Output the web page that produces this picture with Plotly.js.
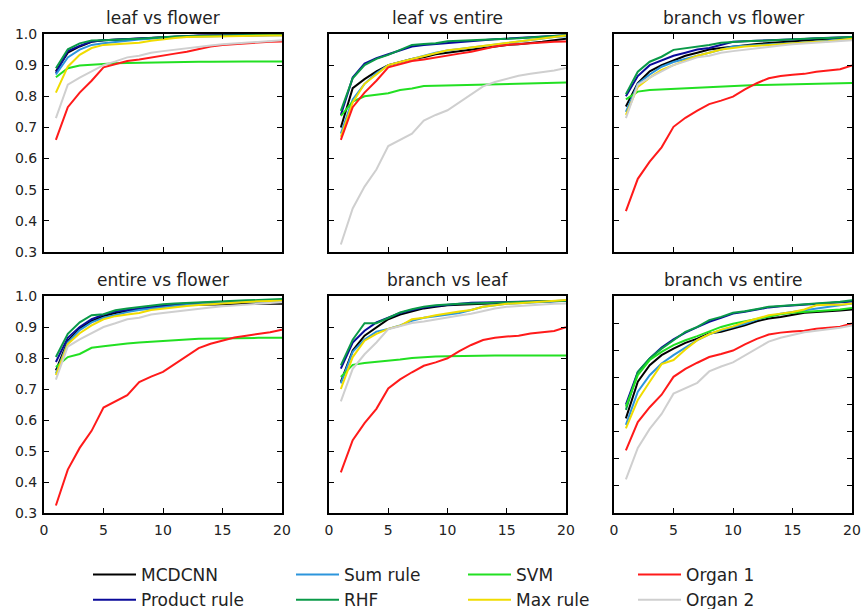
<!DOCTYPE html>
<html>
<head>
<meta charset="utf-8">
<script src="https://cdn.plot.ly/plotly-3.0.1.min.js"></script>
<style>html,body{margin:0;padding:0;background:#fff;}#chart{width:861px;height:609px;}</style>
</head>
<body>
<div id="chart"></div>
<script>
// ---------- data ----------
const rank = [1,2,3,4,5,6,7,8,9,10,11,12,13,14,15,16,17,18,19,20];
const panelTitles = ["leaf vs flower","leaf vs entire","branch vs flower","entire vs flower","branch vs leaf","branch vs entire"];
const methodNames = ["MCDCNN","Product rule","Sum rule","RHF","SVM","Max rule","Organ 1","Organ 2"];

// single-organ curves (shared as Organ 1 / Organ 2)
const leafOnly   = [0.660,0.765,0.812,0.850,0.893,0.903,0.913,0.918,0.925,0.932,0.937,0.943,0.952,0.960,0.965,0.968,0.970,0.972,0.975,0.976];
const flowerOnly = [0.730,0.837,0.860,0.880,0.900,0.912,0.925,0.930,0.940,0.945,0.950,0.955,0.960,0.963,0.967,0.970,0.972,0.975,0.977,0.980];
const entireOnly = [0.324,0.440,0.510,0.565,0.640,0.661,0.680,0.722,0.740,0.755,0.780,0.806,0.832,0.846,0.857,0.866,0.872,0.877,0.883,0.891];
const branchOnly = [0.431,0.535,0.590,0.636,0.702,0.731,0.754,0.775,0.786,0.799,0.822,0.842,0.858,0.865,0.869,0.872,0.879,0.882,0.887,0.899];

// leaf vs flower
const lf_mcdcnn  = [0.880,0.940,0.960,0.975,0.980,0.982,0.984,0.986,0.988,0.990,0.992,0.993,0.994,0.995,0.995,0.996,0.996,0.997,0.997,0.997];
const lf_product = [0.875,0.945,0.962,0.976,0.980,0.982,0.985,0.987,0.989,0.991,0.993,0.994,0.995,0.995,0.996,0.996,0.997,0.997,0.997,0.998];
const lf_sum     = [0.870,0.925,0.950,0.965,0.970,0.975,0.978,0.982,0.985,0.988,0.990,0.991,0.992,0.993,0.994,0.995,0.995,0.996,0.996,0.996];
const lf_rhf     = [0.890,0.951,0.970,0.979,0.980,0.981,0.983,0.985,0.987,0.990,0.992,0.993,0.994,0.995,0.995,0.996,0.996,0.997,0.997,0.997];
const lf_svm     = [0.861,0.890,0.899,0.902,0.905,0.906,0.907,0.908,0.909,0.910,0.910,0.911,0.911,0.911,0.912,0.912,0.912,0.912,0.912,0.912];
const lf_max     = [0.812,0.895,0.933,0.955,0.965,0.967,0.970,0.972,0.978,0.983,0.987,0.990,0.991,0.992,0.993,0.994,0.994,0.995,0.995,0.995];

// leaf vs entire
const le_mcdcnn  = [0.700,0.826,0.855,0.880,0.900,0.910,0.920,0.925,0.935,0.940,0.945,0.950,0.955,0.960,0.965,0.967,0.970,0.975,0.980,0.985];
const le_product = [0.740,0.860,0.905,0.922,0.935,0.947,0.960,0.965,0.968,0.973,0.976,0.979,0.981,0.983,0.985,0.987,0.989,0.991,0.993,0.996];
const le_sum     = [0.680,0.790,0.840,0.875,0.900,0.910,0.922,0.930,0.940,0.947,0.952,0.957,0.962,0.967,0.970,0.975,0.980,0.985,0.990,0.993];
const le_rhf     = [0.753,0.858,0.900,0.920,0.933,0.949,0.965,0.968,0.970,0.977,0.979,0.981,0.983,0.984,0.985,0.986,0.988,0.990,0.993,0.996];
const le_svm     = [0.737,0.783,0.800,0.805,0.810,0.820,0.825,0.833,0.834,0.835,0.836,0.837,0.838,0.839,0.840,0.841,0.842,0.843,0.844,0.844];
const le_max     = [0.670,0.780,0.840,0.870,0.900,0.910,0.920,0.930,0.940,0.948,0.952,0.957,0.962,0.967,0.970,0.975,0.980,0.985,0.990,0.995];

// branch vs flower
const bf_mcdcnn  = [0.767,0.842,0.880,0.900,0.915,0.930,0.940,0.950,0.955,0.960,0.965,0.968,0.971,0.974,0.977,0.979,0.982,0.984,0.986,0.988];
const bf_product = [0.800,0.865,0.900,0.915,0.930,0.940,0.950,0.955,0.965,0.975,0.977,0.978,0.980,0.981,0.983,0.984,0.986,0.987,0.988,0.990];
const bf_sum     = [0.750,0.840,0.870,0.895,0.910,0.920,0.930,0.940,0.950,0.960,0.962,0.965,0.967,0.969,0.970,0.973,0.976,0.979,0.982,0.985];
const bf_rhf     = [0.807,0.879,0.911,0.927,0.949,0.954,0.960,0.965,0.972,0.975,0.977,0.978,0.980,0.982,0.983,0.985,0.986,0.987,0.989,0.990];
const bf_svm     = [0.790,0.815,0.820,0.822,0.825,0.827,0.829,0.830,0.832,0.834,0.835,0.836,0.837,0.838,0.839,0.840,0.841,0.842,0.842,0.843];
const bf_max     = [0.740,0.830,0.860,0.885,0.900,0.915,0.930,0.940,0.950,0.955,0.960,0.962,0.965,0.967,0.970,0.972,0.975,0.977,0.980,0.985];

// entire vs flower
const ef_mcdcnn  = [0.760,0.855,0.895,0.920,0.935,0.945,0.952,0.958,0.963,0.967,0.970,0.971,0.972,0.973,0.974,0.974,0.975,0.975,0.975,0.975];
const ef_product = [0.787,0.865,0.900,0.925,0.940,0.950,0.955,0.960,0.965,0.970,0.973,0.976,0.978,0.980,0.981,0.982,0.983,0.984,0.985,0.985];
const ef_sum     = [0.750,0.850,0.890,0.915,0.930,0.940,0.948,0.955,0.960,0.965,0.968,0.971,0.974,0.976,0.978,0.980,0.981,0.983,0.984,0.985];
const ef_rhf     = [0.803,0.878,0.915,0.938,0.941,0.954,0.960,0.965,0.970,0.973,0.976,0.978,0.980,0.982,0.984,0.985,0.986,0.987,0.988,0.990];
const ef_svm     = [0.771,0.803,0.813,0.833,0.838,0.843,0.847,0.850,0.853,0.856,0.858,0.860,0.862,0.863,0.864,0.864,0.865,0.865,0.865,0.865];
const ef_max     = [0.745,0.845,0.880,0.905,0.925,0.935,0.940,0.945,0.955,0.960,0.965,0.968,0.971,0.974,0.977,0.979,0.981,0.983,0.984,0.985];

// branch vs leaf
const bl_mcdcnn  = [0.723,0.824,0.872,0.899,0.925,0.940,0.950,0.960,0.965,0.970,0.972,0.974,0.976,0.977,0.978,0.979,0.980,0.982,0.983,0.985];
const bl_product = [0.766,0.850,0.888,0.915,0.930,0.945,0.955,0.963,0.968,0.972,0.975,0.978,0.979,0.980,0.980,0.981,0.982,0.983,0.984,0.985];
const bl_sum     = [0.718,0.820,0.860,0.885,0.894,0.905,0.920,0.930,0.935,0.940,0.945,0.955,0.965,0.970,0.975,0.977,0.979,0.981,0.983,0.985];
const bl_rhf     = [0.776,0.859,0.912,0.912,0.929,0.947,0.957,0.965,0.970,0.973,0.975,0.976,0.977,0.978,0.980,0.981,0.982,0.983,0.984,0.985];
const bl_svm     = [0.739,0.778,0.784,0.787,0.790,0.795,0.800,0.803,0.805,0.806,0.807,0.807,0.808,0.808,0.808,0.808,0.808,0.808,0.808,0.808];
const bl_max     = [0.700,0.803,0.856,0.878,0.894,0.904,0.925,0.930,0.938,0.945,0.950,0.955,0.965,0.970,0.975,0.977,0.980,0.982,0.985,0.987];

// branch vs entire
const be_mcdcnn  = [0.549,0.684,0.745,0.782,0.806,0.827,0.843,0.862,0.868,0.880,0.892,0.907,0.917,0.923,0.931,0.938,0.941,0.945,0.947,0.950];
const be_product = [0.600,0.720,0.770,0.810,0.840,0.865,0.885,0.905,0.920,0.935,0.942,0.950,0.958,0.962,0.965,0.967,0.970,0.973,0.976,0.980];
const be_sum     = [0.525,0.647,0.708,0.751,0.782,0.810,0.837,0.859,0.874,0.886,0.898,0.913,0.925,0.935,0.941,0.947,0.953,0.960,0.964,0.972];
const be_rhf     = [0.580,0.720,0.770,0.806,0.837,0.868,0.886,0.911,0.923,0.938,0.944,0.951,0.960,0.963,0.966,0.968,0.972,0.975,0.979,0.984];
const be_svm     = [0.592,0.708,0.764,0.794,0.819,0.837,0.852,0.870,0.886,0.898,0.907,0.917,0.925,0.933,0.938,0.941,0.945,0.947,0.950,0.956];
const be_max     = [0.512,0.617,0.684,0.749,0.764,0.803,0.837,0.859,0.876,0.888,0.904,0.917,0.929,0.935,0.941,0.950,0.966,0.968,0.968,0.972];

const panelSeries = [
  [lf_mcdcnn, lf_product, lf_sum, lf_rhf, lf_svm, lf_max, leafOnly,   flowerOnly],
  [le_mcdcnn, le_product, le_sum, le_rhf, le_svm, le_max, leafOnly,   entireOnly],
  [bf_mcdcnn, bf_product, bf_sum, bf_rhf, bf_svm, bf_max, branchOnly, flowerOnly],
  [ef_mcdcnn, ef_product, ef_sum, ef_rhf, ef_svm, ef_max, entireOnly, flowerOnly],
  [bl_mcdcnn, bl_product, bl_sum, bl_rhf, bl_svm, bl_max, branchOnly, leafOnly],
  [be_mcdcnn, be_product, be_sum, be_rhf, be_svm, be_max, branchOnly, entireOnly]
];
const yRanges = [[0.3,1.0],[0.3,1.0],[0.3,1.0],[0.3,1.0],[0.3,1.0],[0.2,1.0]];

// ---------- styling ----------
const colors = ["#000000","#0a0a9a","#2c95dc","#0a9a48","#22e022","#f0dc00","#ff1a1a","#cfcfcf"];
const legendOf = ["legend","legend","legend2","legend2","legend3","legend3","legend4","legend4"];
const W = 861, H = 609;
const xPix = [[44,282],[329,566],[614,852]];
const yPix = [[34,252],[296,513]];
const FONT = "DejaVu Sans, sans-serif";

const traces = [];
const layout = {
  width: W, height: H,
  margin: {l:0, r:0, t:0, b:0, autoexpand: false},
  paper_bgcolor: "#fff", plot_bgcolor: "#fff",
  font: {family: FONT, size: 14, color: "#222"},
  showlegend: true,
  annotations: []
};

for (let p = 0; p < 6; p++) {
  const row = Math.floor(p / 3), col = p % 3;
  const n = p + 1;
  const xa = "xaxis" + (n === 1 ? "" : n), ya = "yaxis" + (n === 1 ? "" : n);
  const xr = "x" + (n === 1 ? "" : n), yr = "y" + (n === 1 ? "" : n);
  layout[xa] = {
    domain: [xPix[col][0] / W, xPix[col][1] / W],
    anchor: yr, range: [0, 20], dtick: 5, tick0: 0,
    showgrid: false, zeroline: false, automargin: false,
    showline: true, linecolor: "#000", linewidth: 2, mirror: "ticks",
    ticks: "inside", ticklen: 5, tickwidth: 1, tickcolor: "#000",
    showticklabels: row === 1, ticklabelstandoff: 3,
    tickfont: {family: FONT, size: 14, color: "#222"},
    fixedrange: true
  };
  layout[ya] = {
    domain: [1 - yPix[row][1] / H, 1 - yPix[row][0] / H],
    anchor: xr, range: yRanges[p], dtick: 0.1, tick0: 0, tickformat: ".1f",
    showgrid: false, zeroline: false, automargin: false,
    showline: true, linecolor: "#000", linewidth: 2, mirror: "ticks",
    ticks: "inside", ticklen: 5, tickwidth: 1, tickcolor: "#000",
    showticklabels: col === 0, ticklabelstandoff: 2,
    tickfont: {family: FONT, size: 14, color: "#222"},
    fixedrange: true
  };
  layout.annotations.push({
    text: panelTitles[p], showarrow: false,
    xref: "paper", yref: "paper",
    x: (xPix[col][0] + xPix[col][1]) / 2 / W,
    y: 1 - (yPix[row][0] - 16) / H,
    xanchor: "center", yanchor: "middle",
    font: {family: FONT, size: 17, color: "#222"}
  });
  for (let s = 0; s < 8; s++) {
    traces.push({
      type: "scatter", mode: "lines",
      x: rank, y: panelSeries[p][s],
      xaxis: xr, yaxis: yr,
      name: methodNames[s],
      line: {color: colors[s], width: 2},
      showlegend: p === 0,
      legend: legendOf[s],
      hoverinfo: "skip"
    });
  }
}

const legendX = [93, 296, 468, 638];
["legend","legend2","legend3","legend4"].forEach((lg, i) => {
  layout[lg] = {
    x: (legendX[i] - 5) / W, y: 1 - 557 / H,
    xanchor: "left", yanchor: "top",
    orientation: "v", itemwidth: 43,
    bgcolor: "rgba(0,0,0,0)", borderwidth: 0,
    font: {family: FONT, size: 17, color: "#222"},
    tracegroupgap: 0
  };
});

Plotly.newPlot("chart", traces, layout, {displayModeBar: false, staticPlot: true});
</script>
</body>
</html>
